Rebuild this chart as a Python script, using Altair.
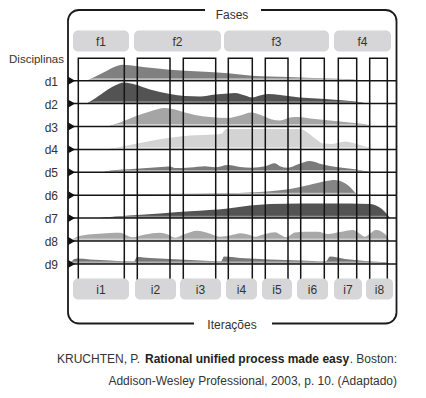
import altair as alt
import pandas as pd

# ---------------- data ----------------
rows = ["d1", "d2", "d3", "d4", "d5", "d6", "d7", "d8", "d9"]
row_base0 = 80.7      # baseline of first discipline row
row_step = 22.9       # distance between discipline rows

d1_x = [87, 95, 105, 115, 122, 130, 145, 170, 200, 228, 252, 288, 325, 355, 357]
d1_h = [0, 4, 9, 14, 16, 15.5, 13.5, 11, 9.2, 7.4, 5, 3.7, 2.3, 1, 0]
d2_x = [87, 95, 105, 115, 124, 135, 150, 170, 185, 200, 215, 228, 235, 245, 252, 260, 268, 280, 300, 325, 345, 368]
d2_h = [0, 5, 12, 18, 21, 19, 14, 9.5, 7.5, 7, 9, 10, 10.5, 8, 6, 8, 9.5, 8.5, 6, 4.5, 3, 0]
d3_x = [108, 120, 135, 150, 165, 175, 185, 195, 210, 228, 240, 251, 262, 272, 280, 290, 298, 310, 330, 350, 368, 370]
d3_h = [0, 4, 10, 15, 18.5, 17, 14, 11.5, 9.5, 8.5, 11, 14, 11, 7, 6, 9, 9.5, 8, 6, 4, 1.5, 0]
d4_x = [106, 115, 130, 150, 170, 190, 215, 222, 226, 300, 306, 315, 323, 332, 345, 355, 365, 375]
d4_h = [0, 1.5, 4.5, 8.5, 11.7, 14, 15, 16, 20.4, 20.4, 18, 11, 6, 5.5, 8, 6, 3, 0]
d5_x = [103, 110, 136, 165, 170, 175, 190, 205, 215, 228, 240, 252, 265, 275, 280, 288, 298, 310, 322, 338, 355, 370]
d5_h = [0, 1.5, 3.5, 5.5, 5.8, 4.2, 4.8, 6, 5, 7.3, 5.2, 4.5, 6, 9, 6, 4.5, 8, 11.3, 8, 5, 3, 0]
d6_x = [120, 125, 200, 228, 250, 270, 290, 310, 325, 335, 342, 348, 353, 357]
d6_h = [0, 1, 1.5, 2, 2.8, 4, 6.2, 10.5, 14, 15.2, 13.5, 10, 5, 0]
d7_x = [100, 130, 160, 190, 228, 250, 270, 300, 350, 370, 378, 385, 390]
d7_h = [0, 2.5, 4.7, 6.8, 9.7, 12.5, 14.2, 14.7, 14.5, 14, 11.5, 6, 0]
d8_x = [72, 74, 82, 95, 110, 120, 126, 132, 145, 160, 168, 175, 185, 197, 208, 220, 230,
        241, 248, 255, 265, 275, 281, 286, 295, 305, 318, 328, 340, 353, 358, 365, 370,
        376, 382, 388, 389]
d8_h = [0, 2.5, 5.5, 7, 8, 8.3, 6, 3.7, 6.5, 8.3, 6.5, 3.3, 7, 10.3, 8, 4.3, 5.5,
        7.7, 6.5, 4.3, 7, 8.7, 6, 3.7, 8.5, 9.3, 9.3, 7, 9, 11, 8.5, 4.3, 7.5,
        11, 9, 2.7, 0]
d9_x = [70, 72, 77, 90, 110, 134, 137, 150, 180, 210, 221, 224, 240, 270, 300, 326, 330, 345, 365, 388, 389]
d9_h = [0, 3, 5.3, 4.5, 3.5, 2.5, 7, 6, 4.5, 3, 2.5, 7.3, 6, 4.5, 3.5, 2.5, 7.3, 5, 3, 1.2, 0]

hump_x = [d1_x, d2_x, d3_x, d4_x, d5_x, d6_x, d7_x, d8_x, d9_x]
hump_h = [d1_h, d2_h, d3_h, d4_h, d5_h, d6_h, d7_h, d8_h, d9_h]
hump_fill = ["#808080", "#535353", "#a5a5a5", "#d3d3d3", "#7a7a7a",
             "#858585", "#535353", "#a8a8a8", "#787878"]
band_fill = ["#bdbdbd", "#8f8f8f", "#cfcfcf", "#e4e4e4", "#b5b5b5",
             "#c4c4c4", "#8f8f8f", "#cdcdcd", "#b3b3b3"]
band_h = 2.4

phases = ["f1", "f2", "f3", "f4"]
phase_x0 = [73, 134, 224, 334]
phase_x1 = [129, 221, 329, 391]
phase_y0, phase_y1 = 30.5, 51.5

iters = ["i1", "i2", "i3", "i4", "i5", "i6", "i7", "i8"]
iter_x0 = [73, 135, 180, 226, 262, 297, 334, 366]
iter_x1 = [129, 176, 221, 257, 292, 328, 362, 393]
iter_y0, iter_y1 = 278.5, 299.5
col_x0 = [78.3, 137.3, 183.3, 228.3, 265.3, 300.7, 338.3, 369.7]
col_x1 = [124.3, 170, 215.7, 252.3, 288, 324.3, 356.7, 387.3]
col_top, col_bottom = 58.3, 280

frame_x0, frame_x1, frame_y0, frame_y1 = 68, 396.5, 10, 323.5
row_line_x0, row_line_x1 = 68, 396.5

FONT = "Liberation Sans"
FS = 12
TXT = "#333333"

# ---------------- tables ----------------
xs = alt.Scale(domain=[8, 418], nice=False, zero=False)
ys = alt.Scale(domain=[8, 390], nice=False, zero=False, reverse=True)

bases = [row_base0 + i * row_step for i in range(len(rows))]

hump_recs = []
for i, d in enumerate(rows):
    for x, h in zip(hump_x[i], hump_h[i]):
        hump_recs.append({"disc": d, "x": x, "top": bases[i] - h, "base": bases[i],
                          "btop": bases[i] - min(h, band_h),
                          "fill": hump_fill[i], "bfill": band_fill[i]})
humps = pd.DataFrame(hump_recs)


def X(f):
    return alt.X(f, type="quantitative", scale=xs, axis=None)


def Y(f):
    return alt.Y(f, type="quantitative", scale=ys, axis=None)


area = alt.Chart(humps).mark_area(interpolate="monotone").encode(
    x=X("x"), y=Y("top"), y2="base",
    color=alt.Color("fill:N", scale=None), detail="disc:N")
band = alt.Chart(humps).mark_area(interpolate="monotone").encode(
    x=X("x"), y=Y("btop"), y2="base",
    color=alt.Color("bfill:N", scale=None), detail="disc:N")

rows_df = pd.DataFrame({"disc": rows, "y": bases, "x0": row_line_x0, "x1": row_line_x1,
                        "tx": 58, "ax": 71.5, "ty": [b + 1 for b in bases]})
row_lines = alt.Chart(rows_df).mark_rule(color="#141414", strokeWidth=1.5).encode(
    x=X("x0"), x2="x1", y=Y("y"))
arrows = alt.Chart(rows_df).mark_point(shape="triangle-right", filled=True, size=70,
                                        color="#111111", opacity=1).encode(
    x=X("ax"), y=Y("y"))
row_text = alt.Chart(rows_df).mark_text(align="right", baseline="middle", font=FONT,
                                        fontSize=FS, color=TXT).encode(
    x=X("tx"), y=Y("ty"), text="disc:N")

cols_df = pd.DataFrame({"x0": col_x0, "x1": col_x1, "y0": col_top, "y1": col_bottom})
cols = alt.Chart(cols_df).mark_rect(filled=False, stroke="#141414", strokeWidth=1.5).encode(
    x=X("x0"), x2="x1", y=Y("y0"), y2="y1")

frame_df = pd.DataFrame({"x0": [frame_x0], "x1": [frame_x1], "y0": [frame_y0], "y1": [frame_y1]})
frame = alt.Chart(frame_df).mark_rect(filled=False, stroke="#1a1a1a", strokeWidth=1.8,
                                      cornerRadius=11).encode(
    x=X("x0"), x2="x1", y=Y("y0"), y2="y1")

gaps_df = pd.DataFrame({"x0": [205, 194], "x1": [261, 272], "y0": [4, 317], "y1": [16, 330]})
gaps = alt.Chart(gaps_df).mark_rect(color="white", opacity=1).encode(
    x=X("x0"), x2="x1", y=Y("y0"), y2="y1")

box_df = pd.DataFrame({
    "label": phases + iters,
    "x0": phase_x0 + iter_x0,
    "x1": phase_x1 + iter_x1,
    "y0": [phase_y0] * 4 + [iter_y0] * 8,
    "y1": [phase_y1] * 4 + [iter_y1] * 8,
})
box_df["cx"] = (box_df["x0"] + box_df["x1"]) / 2
box_df["cy"] = (box_df["y0"] + box_df["y1"]) / 2 + 0.5
boxes = alt.Chart(box_df).mark_rect(color="#d6d6d8", cornerRadius=5).encode(
    x=X("x0"), x2="x1", y=Y("y0"), y2="y1")
box_text = alt.Chart(box_df).mark_text(align="center", baseline="middle", font=FONT,
                                       fontSize=FS, color=TXT).encode(
    x=X("cx"), y=Y("cy"), text="label:N")

top_df = pd.DataFrame({"t": ["Fases"], "x": [232], "y": [9.8]})
top_title = alt.Chart(top_df).mark_text(align="center", baseline="top", font=FONT,
                                        fontSize=FS, color=TXT).encode(
    x=X("x"), y=Y("y"), text="t:N")
bot_df = pd.DataFrame({"t": ["Iterações"], "x": [232], "y": [324.5]})
bot_title = alt.Chart(bot_df).mark_text(align="center", baseline="middle", font=FONT,
                                        fontSize=FS, color=TXT).encode(
    x=X("x"), y=Y("y"), text="t:N")
disc_df = pd.DataFrame({"t": ["Disciplinas"], "x": [64], "y": [59.5]})
disc_title = alt.Chart(disc_df).mark_text(align="right", baseline="middle", font=FONT,
                                          fontSize=11.5, color=TXT).encode(
    x=X("x"), y=Y("y"), text="t:N")

cite_a = pd.DataFrame({"t": ["KRUCHTEN, P."], "x": [57], "y": [359]})
cite_b = pd.DataFrame({"t": ["Rational unified process made easy"], "x": [145], "y": [359]})
cite_c = pd.DataFrame({"t": [". Boston:"], "x": [397], "y": [359]})
cite_d = pd.DataFrame({"t": ["Addison-Wesley Professional, 2003, p. 10. (Adaptado)"], "x": [397], "y": [381]})
c1 = alt.Chart(cite_a).mark_text(align="left", baseline="middle", font=FONT, fontSize=FS,
                                 color=TXT).encode(x=X("x"), y=Y("y"), text="t:N")
c2 = alt.Chart(cite_b).mark_text(align="left", baseline="middle", font=FONT, fontSize=FS,
                                 fontWeight="bold", color="#222222").encode(x=X("x"), y=Y("y"), text="t:N")
c3 = alt.Chart(cite_c).mark_text(align="right", baseline="middle", font=FONT, fontSize=FS,
                                 color=TXT).encode(x=X("x"), y=Y("y"), text="t:N")
c4 = alt.Chart(cite_d).mark_text(align="right", baseline="middle", font=FONT, fontSize=FS,
                                 color=TXT).encode(x=X("x"), y=Y("y"), text="t:N")

chart = alt.layer(
    area, band, cols, row_lines, arrows, frame, gaps, boxes, box_text,
    top_title, bot_title, disc_title, row_text, c1, c2, c3, c4
).properties(
    width=410, height=382, padding=0, autosize=alt.AutoSizeParams(type="none")
).configure_view(strokeWidth=0)

chart.save("out.html", embed_options={"renderer": "svg", "actions": False})
